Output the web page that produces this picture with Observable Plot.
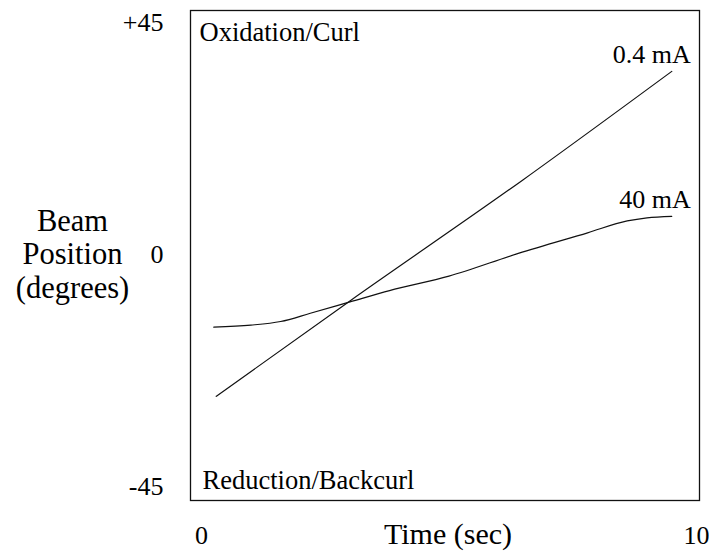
<!DOCTYPE html>
<html>
<head>
<meta charset="utf-8">
<script src="https://cdn.jsdelivr.net/npm/d3@7"></script>
<script src="https://cdn.jsdelivr.net/npm/@observablehq/plot@0.6"></script>
<style>
  html, body { margin: 0; padding: 0; background: #fff; }
  #chart svg { display: block; }
</style>
</head>
<body>
<div id="chart"></div>
<script>
// Beam position over time at two drive currents
const timeLowCurrent = [0.3, 3.0, 6.5, 9.5];
const posLowCurrent = [-27.5, -9.0, 14.5, 35.5];

const timeHighCurrent = [0.25, 1.0, 1.6, 2.2, 3.0, 3.8, 5.0, 6.4, 7.8, 8.6, 9.0, 9.5];
const posHighCurrent = [-14.1, -13.7, -13.0, -11.4, -9.2, -7.0, -4.2, 0.2, 4.2, 6.5, 7.1, 7.4];

const seriesNames = ["0.4 mA", "40 mA"];
const xTicks = [0, 10];
const yTicks = [-45, 0, 45];
const regionLabels = ["Oxidation/Curl", "Reduction/Backcurl"];
const xTitle = "Time (sec)";
const yTitle = "Beam\nPosition\n(degrees)";

const serif = "'Liberation Serif', 'DejaVu Serif', serif";

const series = [
  timeLowCurrent.map((t, i) => ({name: seriesNames[0], t, pos: posLowCurrent[i]})),
  timeHighCurrent.map((t, i) => ({name: seriesNames[1], t, pos: posHighCurrent[i]}))
];
const rows = series.flat();
const ends = series.map(s => s[s.length - 1]);

const chart = Plot.plot({
  width: 709,
  height: 553,
  marginLeft: 190,
  marginRight: 10,
  marginTop: 10,
  marginBottom: 53,
  style: {color: "#000", background: "#fff"},
  x: {domain: [-0.22, 10.06]},
  y: {domain: [-47.7, 47.3]},
  marks: [
    Plot.frame({stroke: "#111", strokeWidth: 1.3}),
    Plot.axisY({
      ticks: yTicks,
      tickSize: 0,
      tickPadding: 27,
      fontSize: 26,
      label: null,
      tickFormat: d => d > 0 ? `+${d}` : `${d}`
    }),
    Plot.axisX({
      ticks: xTicks,
      tickSize: 0,
      tickPadding: 25,
      fontSize: 26,
      label: null,
      tickFormat: d => `${d}`
    }),
    Plot.line(rows, {
      x: "t", y: "pos", z: "name",
      curve: "monotone-x",
      stroke: "#111", strokeWidth: 1.2
    }),
    Plot.text(ends, {
      x: "t", y: "pos", text: "name",
      textAnchor: "end", lineAnchor: "bottom",
      dx: 19, dy: -8,
      fontSize: 26, fill: "#000"
    }),
    Plot.text([regionLabels[0]], {
      frameAnchor: "top-left", textAnchor: "start", lineAnchor: "top",
      dx: 9, dy: 12, fontSize: 26.5, fill: "#000"
    }),
    Plot.text([regionLabels[1]], {
      frameAnchor: "bottom-left", textAnchor: "start", lineAnchor: "bottom",
      dx: 12, dy: -12, fontSize: 26.5, fill: "#000"
    }),
    Plot.text([xTitle], {
      frameAnchor: "bottom", textAnchor: "middle", lineAnchor: "bottom",
      dx: 3, dy: 43, fontSize: 30, fill: "#000"
    }),
    Plot.text([yTitle], {
      frameAnchor: "left", textAnchor: "middle", lineAnchor: "middle",
      dx: -118, dy: -2, fontSize: 30.5, lineHeight: 1.1, fill: "#000"
    })
  ]
});

// serif face for every label
chart.setAttribute("font-family", serif);
d3.select(chart).selectAll("g, text, tspan").attr("font-family", null).style("font-family", serif);

document.getElementById("chart").appendChild(chart);
</script>
</body>
</html>
